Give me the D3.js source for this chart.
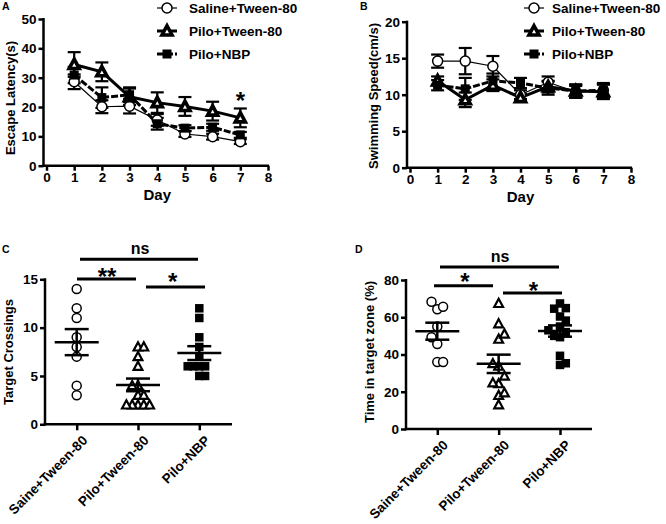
<!DOCTYPE html>
<html>
<head>
<meta charset="utf-8">
<script src="https://cdn.jsdelivr.net/npm/d3@7"></script>
<style>
  body { margin: 0; background: #fff; }
  svg { display: block; }
</style>
</head>
<body>
<script>
// ---- data ----
const days = [1, 2, 3, 4, 5, 6, 7]
const seriesNames = ['Saline+Tween-80', 'Pilo+Tween-80', 'Pilo+NBP']

// escape latency (s), mean and SEM
const latencySaline = [28.6, 20.1, 20.3, 15.6, 10.8, 9.9, 8.2]
const latencySalineErr = [2.5, 2.2, 2.5, 2.0, 1.0, 1.0, 0.8]
const latencyTween = [34.5, 32.0, 23.5, 21.5, 20.2, 18.6, 16.3]
const latencyTweenErr = [4.2, 3.2, 2.8, 3.5, 3.2, 3.2, 3.2]
const latencyNbp = [30.9, 23.2, 24.2, 14.3, 12.8, 13.1, 10.5]
const latencyNbpErr = [2.8, 3.5, 2.5, 2.0, 1.0, 1.2, 1.0]

// swimming speed (cm/s), mean and SEM
const speedSaline = [14.6, 14.6, 13.9, 10.0, 11.7, 10.4, 10.6]
const speedSalineErr = [0.9, 1.8, 1.4, 0.6, 0.8, 0.8, 0.8]
const speedTween = [11.9, 9.3, 11.3, 9.6, 11.1, 10.5, 10.4]
const speedTweenErr = [0.6, 1.0, 0.8, 0.5, 0.8, 0.9, 1.0]
const speedNbp = [11.3, 10.8, 11.9, 11.6, 10.9, 10.5, 10.6]
const speedNbpErr = [0.7, 1.5, 1.0, 0.7, 0.9, 0.9, 1.0]

// probe trial, individual animals
const groups = ['Saine+Tween-80', 'Pilo+Tween-80', 'Pilo+NBP']
const crossSaline = [14, 12, 11, 9, 8, 7, 4, 3]
const crossTween = [8, 8, 7, 6, 4, 4, 3, 3, 2, 2, 2, 2, 2]
const crossNbp = [12, 11, 9, 8, 7, 6, 6, 6, 6, 5, 5]
const zoneSaline = [68.3, 65.6, 64.3, 55, 49.3, 45.6, 36, 36]
const zoneTween = [67.4, 56.5, 51, 48.2, 35.1, 33.7, 28.4, 24.8, 24.3, 19.4, 18, 13]
const zoneNbp = [67.4, 64.6, 64.9, 60.4, 58.2, 55, 53, 52, 50, 49.3, 39.3, 35.3, 34.4]

const FONT = '"Liberation Sans", Arial, Helvetica, sans-serif'

const svg = d3.select('body').append('svg')
    .attr('width', 666)
    .attr('height', 524)
    .style('font-family', FONT)
    .style('font-weight', 'bold')

// ---- helpers ----
function marker(g, type, x, y, opts = {}) {
    if (type === 'circle') {
        g.append('circle')
            .attr('cx', x).attr('cy', y).attr('r', opts.r || 4.5)
            .attr('fill', '#fff').attr('stroke', '#000').attr('stroke-width', opts.sw || 1.5)
    } else if (type === 'triangle') {
        const h = opts.h || 4.5
        g.append('path')
            .attr('d', `M${x},${y - h * 1.05}L${x + h},${y + h * 0.8}L${x - h},${y + h * 0.8}Z`)
            .attr('fill', '#fff').attr('stroke', '#000').attr('stroke-width', opts.sw || 2)
            .attr('stroke-linejoin', 'miter')
    } else {
        const s = opts.s || 8
        g.append('rect')
            .attr('x', x - s / 2).attr('y', y - s / 2).attr('width', s).attr('height', s)
            .attr('fill', '#000')
    }
}

function yAxis(scale, vals, x0) {
    const g = svg.append('g')
        .attr('transform', `translate(${x0},0)`)
        .call(d3.axisLeft(scale).tickValues(vals).tickSize(5).tickSizeOuter(0).tickPadding(2))
    g.select('.domain').remove()
    g.selectAll('line').attr('stroke', '#000').attr('stroke-width', 2.5)
    g.selectAll('text').attr('font-size', 13.5).attr('fill', '#000').style('font-family', FONT)
    svg.append('line')
        .attr('x1', x0).attr('x2', x0)
        .attr('y1', scale.range()[1] - 1).attr('y2', scale.range()[0] + 1.25)
        .attr('stroke', '#000').attr('stroke-width', 2.5)
}

function xLine(x0, x1, y0) {
    svg.append('line')
        .attr('x1', x0 - 1.25).attr('x2', x1)
        .attr('y1', y0).attr('y2', y0)
        .attr('stroke', '#000').attr('stroke-width', 2.5)
}

function yTitle(text, x, y) {
    svg.append('text')
        .attr('transform', `translate(${x},${y}) rotate(-90)`)
        .attr('text-anchor', 'middle')
        .attr('font-size', 13)
        .text(text)
}

function label(text, x, y, size, anchor = 'start') {
    svg.append('text')
        .attr('x', x).attr('y', y)
        .attr('font-size', size)
        .attr('text-anchor', anchor)
        .text(text)
}

// ---- line panels (A, B) ----
const lineStyles = [
    { type: 'circle', width: 1.2, dash: null },
    { type: 'triangle', width: 3, dash: null },
    { type: 'square', width: 3, dash: '7,2' }
]
const legendOpts = s => ({ r: 5, h: 5, s: 9, sw: lineStyles[s].type === 'triangle' ? 3.6 : 1.5 })

function linePanel(p) {
    const x = d3.scaleLinear().domain([0, 8]).range(p.xRange)
    const y = d3.scaleLinear().domain(p.yDomain).range(p.yRange)

    yAxis(y, p.yTicks, p.axisX)
    xLine(p.axisX, x(8) + 1, y(0))
    const gx = svg.append('g')
        .attr('transform', `translate(0,${y(0)})`)
        .call(d3.axisBottom(x).ticks(8).tickSize(5).tickSizeOuter(0).tickPadding(2))
    gx.select('.domain').remove()
    gx.selectAll('line').attr('stroke', '#000').attr('stroke-width', 2.5)
    gx.selectAll('text').attr('font-size', 13.5).attr('fill', '#000').style('font-family', FONT)

    const line = d3.line().x((d, i) => x(days[i])).y(d => y(d))
    const g = svg.append('g')

    p.means.forEach((m, s) => {
        g.append('path')
            .attr('d', line(m))
            .attr('fill', 'none').attr('stroke', '#000')
            .attr('stroke-width', lineStyles[s].width)
            .attr('stroke-dasharray', lineStyles[s].dash)
    })
    p.means.forEach((m, s) => {
        m.forEach((v, i) => {
            const cx = x(days[i])
            const e = p.errs[s][i]
            const eg = g.append('g').attr('stroke', '#000').attr('stroke-width', 2.2)
            eg.append('line').attr('x1', cx).attr('x2', cx).attr('y1', y(v - e)).attr('y2', y(v + e))
            eg.append('line').attr('x1', cx - 6.5).attr('x2', cx + 6.5).attr('y1', y(v + e)).attr('y2', y(v + e))
            eg.append('line').attr('x1', cx - 6.5).attr('x2', cx + 6.5).attr('y1', y(v - e)).attr('y2', y(v - e))
        })
    })
    p.means.forEach((m, s) => {
        m.forEach((v, i) => marker(g, lineStyles[s].type, x(days[i]), y(v), legendOpts(s)))
    })

    // legend
    seriesNames.forEach((name, s) => {
        const ly = 8 + s * 23
        g.append('line')
            .attr('x1', p.legendX - 10).attr('x2', p.legendX + 10)
            .attr('y1', ly).attr('y2', ly)
            .attr('stroke', '#000')
            .attr('stroke-width', lineStyles[s].width)
            .attr('stroke-dasharray', lineStyles[s].dash)
        marker(g, lineStyles[s].type, p.legendX, ly, legendOpts(s))
        label(name, p.legendX + p.legendGap, ly + 5, 13.5)
    })

    label('Day', (x(0) + x(8)) / 2, y(0) + 34, 15, 'middle')
    return { x, y }
}

const A = linePanel({
    xRange: [46.5, 268], yDomain: [0, 50], yRange: [165.7, 19], yTicks: [0, 10, 20, 30, 40, 50],
    axisX: 43.5, legendX: 167, legendGap: 22,
    means: [latencySaline, latencyTween, latencyNbp],
    errs: [latencySalineErr, latencyTweenErr, latencyNbpErr]
})
yTitle('Escape Latency(s)', 15, 98)
label('*', A.x(7), 95 + 13.5, 24, 'middle')

linePanel({
    xRange: [410, 631], yDomain: [0, 20], yRange: [167.7, 21.7], yTicks: [0, 5, 10, 15, 20],
    axisX: 407, legendX: 534, legendGap: 18,
    means: [speedSaline, speedTween, speedNbp],
    errs: [speedSalineErr, speedTweenErr, speedNbpErr]
})
yTitle('Swimming Speed(cm/s)', 378, 96)

// ---- dot panels (C, D) ----
const dotTypes = ['circle', 'triangle', 'square']

function swarm(vals, y, step) {
    const placed = []
    let sign = 1
    vals.slice().sort((a, b) => a - b).forEach(v => {
        const py = y(v)
        const free = o => placed.every(q => Math.abs(q.y - py) >= 9 || Math.abs(q.o - o) >= 5.5)
        let off = 0
        if (!free(0)) {
            for (let k = 1; k < 20; k++) {
                if (free(sign * k * step)) { off = sign * k * step; break }
                if (free(-sign * k * step)) { off = -sign * k * step; break }
            }
            sign = -sign
        }
        placed.push({ v, y: py, o: off })
    })
    return placed
}

function dotPanel(p) {
    const x = d3.scalePoint().domain(groups).range(p.xRange)
    const y = d3.scaleLinear().domain(p.yDomain).range(p.yRange)

    yAxis(y, p.yTicks, p.axisX)
    xLine(p.axisX, p.axisEnd, y(0))
    const gx = svg.append('g')
        .attr('transform', `translate(0,${y(0)})`)
        .call(d3.axisBottom(x).tickSize(6).tickSizeOuter(0).tickPadding(2))
    gx.select('.domain').remove()
    gx.selectAll('line').attr('stroke', '#000').attr('stroke-width', 2.5)
    gx.selectAll('text')
        .attr('font-size', 13.5).attr('fill', '#000').style('font-family', FONT)
        .attr('text-anchor', 'end')
        .attr('dy', null)
        .attr('y', null)
        .attr('transform', 'translate(11,17) rotate(-45)')

    const g = svg.append('g')
    p.data.forEach((vals, gi) => {
        const cx = x(groups[gi])
        swarm(vals, y, 5.8).forEach(d => {
            marker(g, dotTypes[gi], cx + d.o, d.y, { r: 4.5, h: 4.4, s: 8.5, sw: dotTypes[gi] === 'triangle' ? 2.2 : 1.5 })
        })
    })
    p.data.forEach((vals, gi) => {
        const cx = x(groups[gi])
        const m = d3.mean(vals)
        const sem = d3.deviation(vals) / Math.sqrt(vals.length)
        const eg = g.append('g').attr('stroke', '#000').attr('stroke-width', 2.5)
        eg.append('line').attr('x1', cx - 22).attr('x2', cx + 22).attr('y1', y(m)).attr('y2', y(m))
        eg.append('line').attr('x1', cx).attr('x2', cx).attr('y1', y(m - sem)).attr('y2', y(m + sem))
        eg.append('line').attr('x1', cx - 12).attr('x2', cx + 12).attr('y1', y(m + sem)).attr('y2', y(m + sem))
        eg.append('line').attr('x1', cx - 12).attr('x2', cx + 12).attr('y1', y(m - sem)).attr('y2', y(m - sem))
    })

    // significance brackets
    p.brackets.forEach(b => {
        svg.append('line')
            .attr('x1', b.x1).attr('x2', b.x2).attr('y1', b.y).attr('y2', b.y)
            .attr('stroke', '#000').attr('stroke-width', 3)
        if (b.text === 'ns') label('ns', b.tx, b.ty, 16, 'middle')
        else label(b.text, b.tx, b.ty + 13.5, 24, 'middle')
    })
}

dotPanel({
    xRange: [76.7, 199.3], yDomain: [0, 15], yRange: [424.3, 279.3], yTicks: [0, 5, 10, 15],
    axisX: 45, axisEnd: 232,
    data: [crossSaline, crossTween, crossNbp],
    brackets: [
        { x1: 80, x2: 198, y: 259.3, text: 'ns', tx: 140, ty: 254 },
        { x1: 77, x2: 136, y: 279, text: '**', tx: 107, ty: 271 },
        { x1: 146, x2: 205, y: 287, text: '*', tx: 172.7, ty: 276.7 }
    ]
})
yTitle('Target Crossings', 13, 352)

dotPanel({
    xRange: [437.3, 560], yDomain: [0, 80], yRange: [429, 280], yTicks: [0, 20, 40, 60, 80],
    axisX: 406, axisEnd: 592,
    data: [zoneSaline, zoneTween, zoneNbp],
    brackets: [
        { x1: 440, x2: 559, y: 267, text: 'ns', tx: 500, ty: 262 },
        { x1: 434, x2: 493, y: 285.7, text: '*', tx: 465, ty: 276.7 },
        { x1: 503, x2: 562, y: 293, text: '*', tx: 533.3, ty: 285 }
    ]
})
yTitle('Time in target zone (%)', 374, 352)

// panel letters
label('A', 2, 10, 10.5)
label('B', 360, 10, 10.5)
label('C', 2, 253, 10.5)
label('D', 355, 253, 10.5)
</script>
</body>
</html>
